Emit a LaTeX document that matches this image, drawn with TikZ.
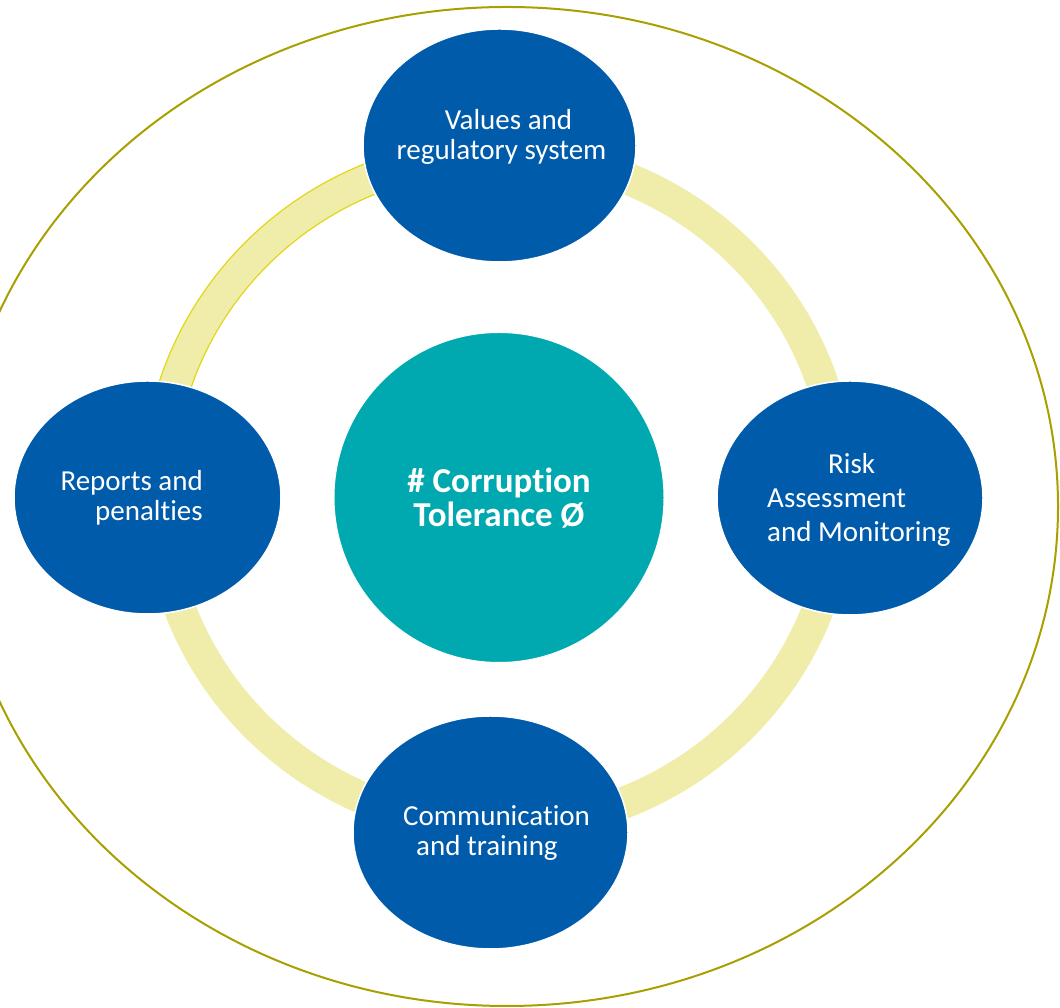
\documentclass[tikz,border=0pt]{standalone}
\usepackage{fontspec}
\setmainfont[Ligatures=NoCommon]{Carlito}
\usetikzlibrary{shapes.geometric}
\definecolor{stepblue}{RGB}{0,91,170}
\definecolor{hubteal}{RGB}{0,169,176}
\definecolor{ringfill}{RGB}{240,237,171}
\definecolor{ringedge}{RGB}{226,214,24}
\definecolor{rimolive}{RGB}{168,159,0}
\begin{document}
\begin{tikzpicture}[x=1pt,y=1pt,
  stepnode/.style={ellipse, fill=stepblue, draw=white, line width=1.5pt, inner sep=0pt},
  hubnode/.style={circle, fill=hubteal, draw=white, line width=1pt, inner sep=0pt, minimum size=330pt},
  steplabel/.style={text=white, inner sep=0pt, font=\fontsize{29}{29.5}\selectfont},
  hublabel/.style={text=white, inner sep=0pt, align=center, font=\fontsize{35}{34}\selectfont\bfseries},
]
\useasboundingbox (0,0) rectangle (1060,1008);
\clip (0,0) rectangle (1060,1008);

% outer boundary
\coordinate (rimc) at (507,501.5);
\draw[rimolive, line width=2pt] (rimc) ellipse [x radius=551, y radius=499.5];

% cycle ring
\coordinate (ringc) at (499,518);
\draw[ringfill, line width=32pt] (ringc) ellipse [x radius=341, y radius=336];
\draw[ringedge, line width=1.2pt] (ringc) ++(100:357 and 352) arc[start angle=100, end angle=175, x radius=357, y radius=352];
\draw[ringedge, line width=1.2pt] (ringc) ++(100:325 and 320) arc[start angle=100, end angle=175, x radius=325, y radius=320];

% hub
\node[hubnode] (hub) at (499,510.5) {};
\node[hublabel] (hubtext) at (499,510) {\# Corruption\\Tolerance Ø};

% steps around the cycle
\node[stepnode, minimum width=273pt, minimum height=233pt] (values) at (499.5,862.5) {};
\node[stepnode, minimum width=266pt, minimum height=234pt] (risk) at (850,510) {};
\node[stepnode, minimum width=275pt, minimum height=233pt] (comm) at (490.5,175.5) {};
\node[stepnode, minimum width=267pt, minimum height=233pt] (reports) at (147.5,510.5) {};

\node[steplabel, align=center] (valuestext) at (501.5,871) {\hspace*{14pt}Values and\\regulatory system};
\node[steplabel, align=left, anchor=west, font=\fontsize{29}{34}\selectfont] (risktext) at (767,508) {\hspace*{61pt}Risk\\Assessment\\and Monitoring};
\node[steplabel, align=left, anchor=west] (commtext) at (403,175) {Communication\\\hspace*{13pt}and training};
\node[steplabel, align=right, anchor=east] (reportstext) at (203,510) {Reports and\\penalties};
\end{tikzpicture}
\end{document}
